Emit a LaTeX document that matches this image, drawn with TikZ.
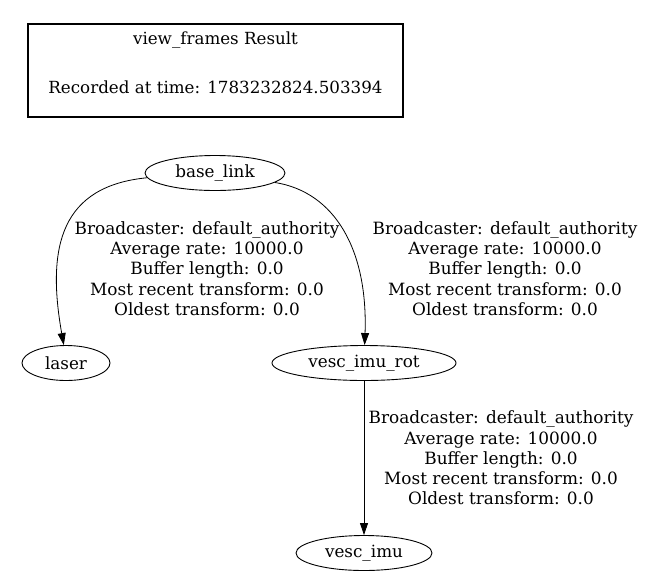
\documentclass[tikz,border=0pt]{standalone}
\usepackage{fontspec}
\setmainfont{DejaVu Serif}
\usetikzlibrary{arrows.meta,shapes.geometric}
\begin{document}
\begin{tikzpicture}[x=1pt,y=-1pt,
  frame/.style={ellipse,draw,line width=0.9pt,minimum width=#1,minimum height=35pt,inner sep=0pt,font=\fontsize{16.8}{19}\selectfont},
  lbl/.style={align=center,font=\fontsize{16.9}{20.3}\selectfont,inner sep=0pt},
  tf/.style={line width=0.8pt,-{Triangle[length=12pt,width=8pt]}}]
\useasboundingbox (0,0) rectangle (658,587);
\node[draw,line width=2pt,minimum width=375pt,minimum height=93pt,inner sep=0pt] (title) at (215.5,70.5) {};
\node[font=\fontsize{16.7}{19}\selectfont] (t1) at (215.5,40) {view\_frames Result};
\node[font=\fontsize{16.7}{19}\selectfont] (t2) at (215.5,87) {Recorded at time: 1783232824.503394};
\node[frame=140pt] (base) at (215,173) {base\_link};
\node[frame=88pt] (laser) at (66,363) {laser};
\node[frame=184pt] (rot) at (364,363) {vesc\_imu\_rot};
\node[frame=136pt] (imu) at (364,553) {vesc\_imu};
\draw[tf] (base.184) .. controls (62,186) and (46,245) .. (laser.97);
\draw[tf] (base.-9) .. controls (335,192) and (368,250) .. (rot.88);
\draw[tf] (rot) -- (imu);
\node[lbl] (l1) at (207,268.5) {Broadcaster: default\_authority\\Average rate: 10000.0\\Buffer length: 0.0\\Most recent transform: 0.0\\Oldest transform: 0.0};
\node[lbl] (l2) at (505,268.5) {Broadcaster: default\_authority\\Average rate: 10000.0\\Buffer length: 0.0\\Most recent transform: 0.0\\Oldest transform: 0.0};
\node[lbl] (l3) at (501,458) {Broadcaster: default\_authority\\Average rate: 10000.0\\Buffer length: 0.0\\Most recent transform: 0.0\\Oldest transform: 0.0};
\end{tikzpicture}
\end{document}
